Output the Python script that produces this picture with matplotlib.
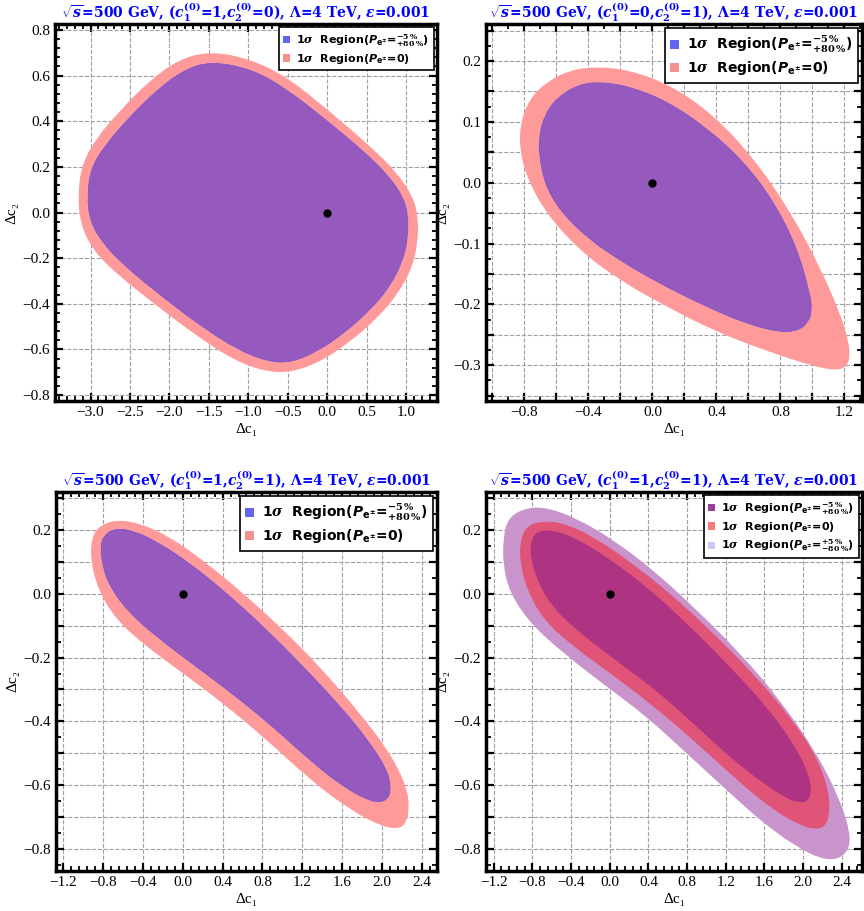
import matplotlib
matplotlib.use('Agg')
import matplotlib.pyplot as plt
import numpy as np
from matplotlib.path import Path
from matplotlib.patches import PathPatch, Patch
from matplotlib.ticker import MultipleLocator, AutoMinorLocator, FuncFormatter

plt.rcParams['font.family'] = ['Liberation Serif', 'DejaVu Serif']
plt.rcParams['mathtext.fontset'] = 'custom'
plt.rcParams['mathtext.rm'] = 'DejaVu Serif:bold'
plt.rcParams['mathtext.it'] = 'DejaVu Serif:italic:bold'
plt.rcParams['mathtext.bf'] = 'DejaVu Sans:bold'
plt.rcParams['mathtext.sf'] = 'DejaVu Sans:italic:bold'

# boundaries of the 1 sigma regions (dc1, dc2)
p1_pol_x = [-1.48, -0.96, -0.54, 0.0, 0.50, 0.79, 0.96, 1.02, 1.02, 0.96, 0.79, 0.54, 0.21, -0.13,
            -0.46, -0.75, -1.13, -1.59, -2.09, -2.55, -2.84, -3.01, -3.04, -2.99, -2.80, -2.51, -2.17, -1.84]
p1_pol_y = [0.663, 0.627, 0.547, 0.401, 0.256, 0.154, 0.067, -0.006, -0.108, -0.209, -0.326, -0.428,
            -0.529, -0.609, -0.657, -0.653, -0.602, -0.500, -0.369, -0.239, -0.137, -0.035, 0.081,
            0.198, 0.300, 0.416, 0.532, 0.620]
p1_unp_x = [-1.48, -0.96, -0.50, 0.0, 0.54, 0.88, 1.09, 1.15, 1.15, 1.08, 0.90, 0.63, 0.29, -0.08,
            -0.46, -0.79, -1.19, -1.67, -2.17, -2.65, -2.97, -3.13, -3.16, -3.11, -2.92, -2.63, -2.26, -1.88]
p1_unp_y = [0.707, 0.671, 0.591, 0.452, 0.292, 0.176, 0.067, -0.020, -0.122, -0.239, -0.355, -0.464,
            -0.566, -0.653, -0.701, -0.697, -0.646, -0.537, -0.406, -0.275, -0.166, -0.049, 0.081,
            0.212, 0.329, 0.445, 0.576, 0.671]

p2_pol_x = [-0.338, -0.140, 0.090, 0.340, 0.569, 0.756, 0.902, 0.985, 0.996, 0.975, 0.913, 0.798,
            0.590, 0.340, 0.048, -0.202, -0.410, -0.577, -0.671, -0.708, -0.706, -0.671, -0.598, -0.473]
p2_pol_y = [0.166, 0.158, 0.134, 0.090, 0.035, -0.030, -0.106, -0.183, -0.210, -0.229, -0.243, -0.246,
            -0.232, -0.204, -0.166, -0.128, -0.090, -0.046, -0.003, 0.046, 0.079, 0.112, 0.139, 0.160]
p2_unp_x = [-0.348, -0.140, 0.110, 0.381, 0.631, 0.860, 1.048, 1.173, 1.225, 1.235, 1.215, 1.152,
            1.006, 0.694, 0.381, 0.090, -0.202, -0.452, -0.660, -0.785, -0.831, -0.823, -0.765, -0.660, -0.515]
p2_unp_y = [0.191, 0.185, 0.161, 0.112, 0.041, -0.046, -0.139, -0.215, -0.259, -0.286, -0.302, -0.309,
            -0.302, -0.275, -0.243, -0.204, -0.161, -0.112, -0.052, 0.008, 0.057, 0.101, 0.139, 0.166, 0.185]

p3_pol_x = [-0.796, -0.696, -0.495, -0.227, 0.074, 0.408, 0.809, 1.211, 1.612, 1.880, 2.047, 2.087,
            2.064, 1.980, 1.846, 1.612, 1.311, 0.943, 0.542, 0.140, -0.261, -0.562, -0.746, -0.813, -0.819]
p3_pol_y = [0.179, 0.205, 0.199, 0.158, 0.095, 0.011, -0.103, -0.229, -0.364, -0.469, -0.552, -0.605,
            -0.641, -0.655, -0.646, -0.605, -0.532, -0.427, -0.323, -0.229, -0.135, -0.051, 0.032, 0.105, 0.152]
p3_unp_x = [-0.913, -0.829, -0.662, -0.428, -0.127, 0.207, 0.575, 0.977, 1.378, 1.779, 2.080, 2.247,
            2.274, 2.231, 2.147, 1.980, 1.679, 1.278, 0.843, 0.408, 0.007, -0.361, -0.662, -0.846, -0.923]
p3_unp_y = [0.179, 0.215, 0.233, 0.222, 0.179, 0.105, 0.011, -0.103, -0.229, -0.375, -0.500, -0.605,
            -0.678, -0.725, -0.738, -0.728, -0.678, -0.584, -0.458, -0.344, -0.250, -0.166, -0.083, 0.011, 0.105]

p4_neg_x = [-0.821, -0.769, -0.614, -0.372, -0.028, 0.386, 0.800, 1.214, 1.628, 1.903, 2.059, 2.086,
            2.059, 1.972, 1.834, 1.593, 1.283, 0.903, 0.524, 0.110, -0.303, -0.597, -0.752, -0.814]
p4_neg_y = [0.158, 0.195, 0.202, 0.179, 0.116, 0.022, -0.093, -0.219, -0.355, -0.470, -0.564, -0.617,
            -0.648, -0.657, -0.643, -0.596, -0.523, -0.418, -0.313, -0.219, -0.125, -0.041, 0.043, 0.106]
p4_unp_x = [-0.931, -0.872, -0.717, -0.476, -0.166, 0.214, 0.628, 1.041, 1.455, 1.869, 2.145, 2.266,
            2.276, 2.231, 2.128, 1.972, 1.697, 1.317, 0.869, 0.421, 0.007, -0.372, -0.683, -0.855, -0.924]
p4_unp_y = [0.158, 0.210, 0.229, 0.223, 0.179, 0.101, 0.001, -0.114, -0.240, -0.386, -0.512, -0.617,
            -0.690, -0.730, -0.740, -0.727, -0.680, -0.585, -0.460, -0.344, -0.250, -0.166, -0.083, 0.012, 0.095]
p4_pos_x = [-1.103, -1.045, -0.855, -0.648, -0.338, 0.041, 0.455, 0.903, 1.352, 1.766, 2.145, 2.386,
            2.490, 2.472, 2.352, 2.179, 1.938, 1.593, 1.214, 0.800, 0.386, -0.028, -0.476, -0.821, -1.028, -1.103]
p4_pos_y = [0.179, 0.242, 0.271, 0.271, 0.237, 0.169, 0.074, -0.051, -0.187, -0.334, -0.502, -0.648,
            -0.753, -0.805, -0.835, -0.831, -0.795, -0.721, -0.617, -0.502, -0.386, -0.292, -0.187,
            -0.093, 0.001, 0.085]

titles = [r'$\sqrt{s}$=500 GeV, ($c_1^{(0)}$=1,$c_2^{(0)}$=0), $\Lambda$=4 TeV, $\epsilon$=0.001',
          r'$\sqrt{s}$=500 GeV, ($c_1^{(0)}$=0,$c_2^{(0)}$=1), $\Lambda$=4 TeV, $\epsilon$=0.001',
          r'$\sqrt{s}$=500 GeV, ($c_1^{(0)}$=1,$c_2^{(0)}$=1), $\Lambda$=4 TeV, $\epsilon$=0.001',
          r'$\sqrt{s}$=500 GeV, ($c_1^{(0)}$=1,$c_2^{(0)}$=1), $\Lambda$=4 TeV, $\epsilon$=0.001']

lab_neg = r'1$\sigma$  Region($\mathsf{P}_{\mathbf{e^{\pm}}}$=${}^{-5\,\%}_{+80\,\%}$)'
lab_unp = r'1$\sigma$  Region($\mathsf{P}_{\mathbf{e^{\pm}}}$=0)'
lab_pos = r'1$\sigma$  Region($\mathsf{P}_{\mathbf{e^{\pm}}}$=${}^{+5\,\%}_{-80\,\%}$)'


def smooth_patch(xs, ys, **kw):
    # closed quadratic bezier through the midpoints, read points act as controls
    pts = np.column_stack([xs, ys])
    n = len(pts)
    mids = (pts + np.roll(pts, -1, axis=0)) / 2
    verts = [mids[-1]]
    codes = [Path.MOVETO]
    for i in range(n):
        verts += [pts[i], mids[i]]
        codes += [Path.CURVE3, Path.CURVE3]
    return PathPatch(Path(verts, codes), **kw)


def style_axes(ax, xlim, ylim, xgrid, xlab, ygrid, ylab):
    ax.set_xlim(*xlim)
    ax.set_ylim(*ylim)
    ax.xaxis.set_major_locator(MultipleLocator(xgrid))
    ax.yaxis.set_major_locator(MultipleLocator(ygrid))
    ax.xaxis.set_minor_locator(AutoMinorLocator(5 if xlab == xgrid else 2))
    ax.yaxis.set_minor_locator(AutoMinorLocator(5 if ylab == ygrid else 2))

    def fmt(step):
        def f(v, p):
            if abs(v / step - round(v / step)) < 1e-6:
                return ('%.1f' % (0.0 if abs(v) < 1e-9 else v)).replace('-', '\u2212')
            return ''
        return FuncFormatter(f)
    ax.xaxis.set_major_formatter(fmt(xlab))
    ax.yaxis.set_major_formatter(fmt(ylab))
    ax.tick_params(which='both', direction='in', top=True, right=True, labelsize=11)
    ax.tick_params(which='major', length=6, width=1.6)
    ax.tick_params(which='minor', length=3.5, width=1.3)
    for s in ax.spines.values():
        s.set_linewidth(2.5)
    ax.grid(True, which='major', linestyle='--', color='#a0a0a0', linewidth=0.8)
    ax.set_axisbelow(True)
    ax.set_xlabel('\u0394c\u2081', fontsize=11, labelpad=3)
    ax.set_ylabel('\u0394c\u2082', fontsize=11, labelpad=3)


fig = plt.figure(figsize=(8.64, 9.11), dpi=100)
W, H = 864, 911
boxes = [(55, 24, 437, 401), (486, 24, 862, 401), (56, 492, 437, 871), (486, 492, 862, 871)]
axs = [fig.add_axes([l / W, 1 - b / H, (r - l) / W, (b - t) / H]) for l, t, r, b in boxes]

pink = '#ff9a9a'
purple = '#965abe'
leg_blue = '#6464f0'
leg_pink = '#f59090'

# panels 1-3: unpolarised region with the polarised one on top
for ax, (ux, uy, px, py) in zip(axs[:3], [(p1_unp_x, p1_unp_y, p1_pol_x, p1_pol_y),
                                          (p2_unp_x, p2_unp_y, p2_pol_x, p2_pol_y),
                                          (p3_unp_x, p3_unp_y, p3_pol_x, p3_pol_y)]):
    ax.add_patch(smooth_patch(ux, uy, facecolor=pink, edgecolor='none', zorder=2))
    ax.add_patch(smooth_patch(px, py, facecolor=purple, edgecolor='#7a55d0', linewidth=0.6, zorder=3))

ax = axs[3]
ax.add_patch(smooth_patch(p4_pos_x, p4_pos_y, facecolor='#c994cc', edgecolor='none', zorder=2))
ax.add_patch(smooth_patch(p4_unp_x, p4_unp_y, facecolor='#e05577', edgecolor='none', zorder=3))
ax.add_patch(smooth_patch(p4_neg_x, p4_neg_y, facecolor='#ae3382', edgecolor='none', zorder=4))

for ax in axs:
    ax.plot([0], [0], 'o', color='black', markersize=5, zorder=6)

style_axes(axs[0], (-3.45, 1.39), (-0.826, 0.826), 0.5, 0.5, 0.2, 0.2)
style_axes(axs[1], (-1.04, 1.31), (-0.359, 0.261), 0.2, 0.4, 0.05, 0.1)
style_axes(axs[2], (-1.27, 2.55), (-0.87, 0.32), 0.4, 0.4, 0.1, 0.2)
style_axes(axs[3], (-1.28, 2.61), (-0.87, 0.32), 0.4, 0.4, 0.1, 0.2)

for ax, t in zip(axs, titles):
    ax.set_title(t, color='blue', fontsize=10, fontweight='bold', pad=1,
                 family=['DejaVu Serif'])

leg_sizes = [8, 10, 10, 8]
for i, ax in enumerate(axs[:3]):
    handles = [Patch(facecolor=leg_blue, edgecolor='none'), Patch(facecolor=leg_pink, edgecolor='none')]
    lg = ax.legend(handles, [lab_neg, lab_unp], loc='upper right', fancybox=False, framealpha=1,
                   edgecolor='black', handlelength=0.6, handleheight=0.6, handletextpad=0.6,
                   borderaxespad=0.3, labelspacing=0.3,
                   prop={'family': 'DejaVu Sans', 'weight': 'bold', 'size': leg_sizes[i]})
    lg.get_frame().set_linewidth(1.2)
    lg.set_zorder(10)

handles = [Patch(facecolor='#a03c9c', edgecolor='none'), Patch(facecolor='#f87a80', edgecolor='none'),
           Patch(facecolor='#c8c8f5', edgecolor='none')]
lg = axs[3].legend(handles, [lab_neg, lab_unp, lab_pos], loc='upper right', fancybox=False, framealpha=1,
                   edgecolor='black', handlelength=0.6, handleheight=0.6, handletextpad=0.6,
                   borderaxespad=0.3, labelspacing=0.3,
                   prop={'family': 'DejaVu Sans', 'weight': 'bold', 'size': leg_sizes[3]})
lg.get_frame().set_linewidth(1.2)
lg.set_zorder(10)

plt.savefig('out.png', dpi=100)
plt.close()
